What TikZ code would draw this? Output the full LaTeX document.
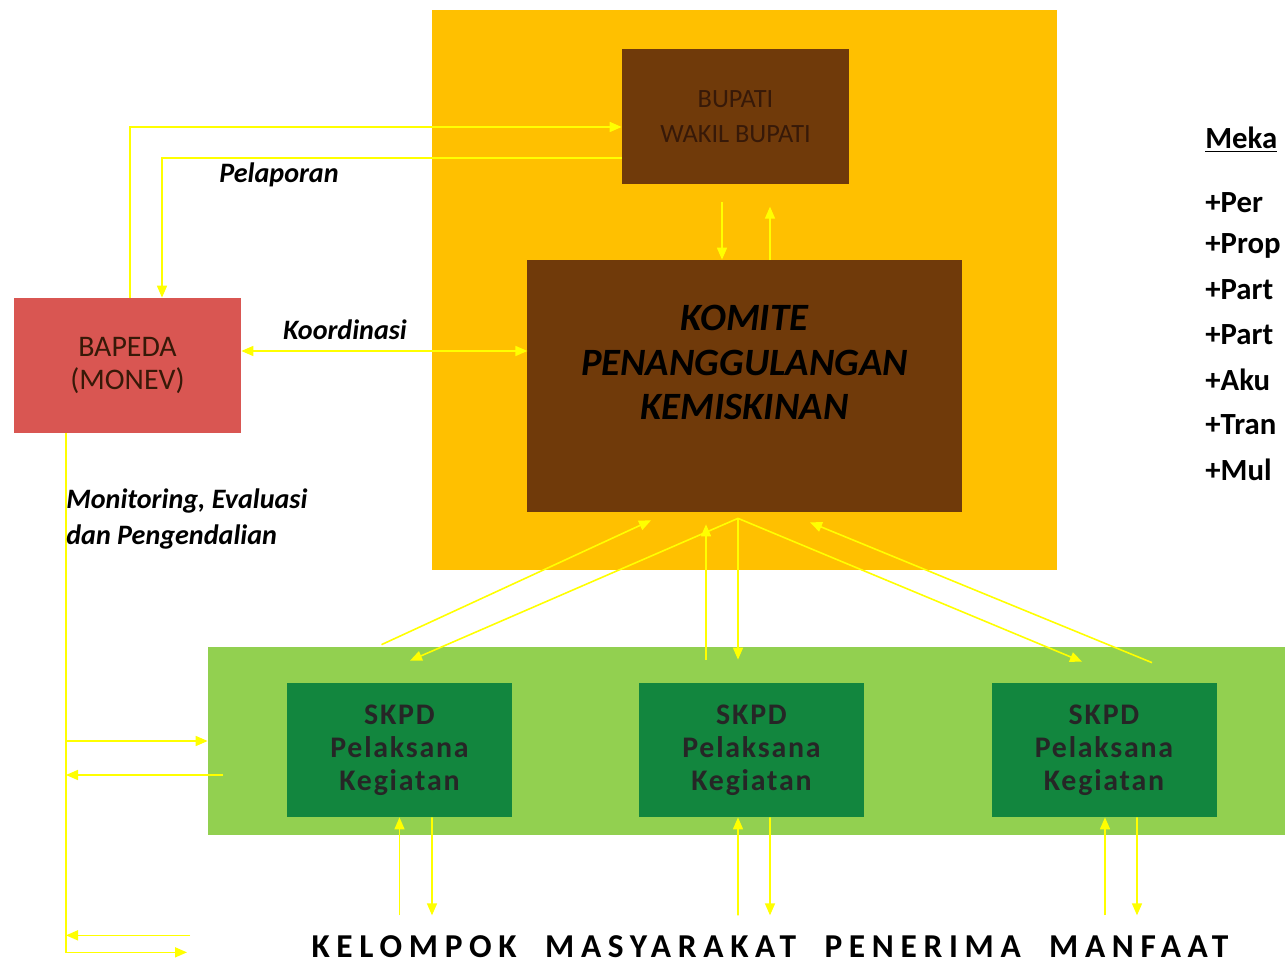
\documentclass[tikz,border=0pt]{standalone}
\usepackage{fontspec}
\setmainfont{Carlito}
\usetikzlibrary{arrows.meta}

\definecolor{kuning}{RGB}{255,192,0}
\definecolor{coklat}{RGB}{112,58,10}
\definecolor{merah}{RGB}{217,86,82}
\definecolor{hijaumuda}{RGB}{146,208,80}
\definecolor{hijautua}{RGB}{18,134,62}
\definecolor{garis}{RGB}{255,255,0}
\definecolor{teksgelap}{RGB}{55,25,8}

\tikzset{
  box/.style={inner sep=0pt, align=center},
  link/.style={draw=garis, line width=0.9pt},
  >={Triangle[length=2.4mm,width=2mm]},
  lbl/.style={font=\fontsize{16}{21}\selectfont\bfseries\itshape, inner sep=0pt},
  skpd/.style={box, fill=hijautua, minimum width=45mm, minimum height=26.8mm, text=black!85,
    font=\fontsize{17}{18.7}\selectfont\bfseries\addfontfeature{LetterSpace=6}},
  butir/.style={anchor=west, inner sep=0pt, font=\fontsize{17.5}{22}\selectfont\bfseries},
}

\begin{document}
\begin{tikzpicture}[x=0.2mm, y=-0.2mm]
\useasboundingbox (0,0) rectangle (1285,966);
\clip (0,0) rectangle (1285,966);
\fill[white] (0,0) rectangle (1285,966);

\node[box, fill=kuning, minimum width=125mm, minimum height=112mm] (tkpk) at (744.5,290) {};
\node[box, fill=hijaumuda, minimum width=218.4mm, minimum height=37.6mm] (pelaksana) at (754,741) {};

\node[box, fill=coklat, minimum width=45.4mm, minimum height=27mm, text=teksgelap,
  font=\fontsize{15}{19.8}\selectfont] (bupati) at (735.5,116.5) {BUPATI\\WAKIL BUPATI};
\node[box, fill=coklat, minimum width=87mm, minimum height=50.4mm] (komite) at (744.5,386) {};
\node[box, font=\fontsize{22}{25.5}\selectfont\bfseries\itshape] (komitetext) at ([yshift=4.7mm]komite.center)
  {KOMITE\\PENANGGULANGAN\\KEMISKINAN};
\node[box, fill=merah, minimum width=45.4mm, minimum height=27mm, text=teksgelap,
  font=\fontsize{17}{18.7}\selectfont] (bapeda) at (127.5,365.5) {BAPEDA\\(MONEV)};

\node[skpd] (skpdA) at (399.5,750) {SKPD\\Pelaksana\\Kegiatan};
\node[skpd] (skpdB) at (751.5,750) {SKPD\\Pelaksana\\Kegiatan};
\node[skpd] (skpdC) at (1104,750) {SKPD\\Pelaksana\\Kegiatan};

\draw[link,->] ([xshift=0.5mm]bapeda.north) |- ([yshift=-2.1mm]bupati.west);
\draw[link,->] ([yshift=-8.3mm]bupati.west) -| ([xshift=6.9mm]bapeda.north);
\draw[link,<->] ([yshift=2.9mm]bapeda.east) -- ++(286,0);

\draw[link,->] ([shift={(-13.5,18)}]bupati.south) -- ([shift={(-22.5,0)}]komite.north);
\draw[link,->] ([shift={(25.5,0)}]komite.north) -- ([shift={(25.5,-53)}]komite.north);

\coordinate (hub) at ([shift={(-6.5,6)}]komite.south);
\draw[link,->] ([shift={(-18,-38)}]skpdA.north) -- ([shift={(-93.5,8)}]komite.south);
\draw[link,->] (hub) -- ([shift={(10.5,-22)}]skpdA.north);
\draw[link,->] ([shift={(-45.5,-23)}]skpdB.north) -- ([shift={(-38.5,12)}]komite.south);
\draw[link,->] (hub) -- ([shift={(-13.5,-23)}]skpdB.north);
\draw[link,->] (hub) -- ([shift={(-22,-21)}]skpdC.north);
\draw[link,->] ([shift={(48,-20)}]skpdC.north) -- ([shift={(65.5,10)}]komite.south);

\draw[link,->] ([shift={(0,98)}]skpdA.south) -- (skpdA.south);
\draw[link,->] ([xshift=6.5mm]skpdA.south) -- ([shift={(32.5,98)}]skpdA.south);
\draw[link,->] ([shift={(-13.5,98)}]skpdB.south) -- ([xshift=-2.7mm]skpdB.south);
\draw[link,->] ([xshift=3.7mm]skpdB.south) -- ([shift={(18.5,98)}]skpdB.south);
\draw[link,->] ([shift={(1,98)}]skpdC.south) -- ([xshift=0.2mm]skpdC.south);
\draw[link,->] ([xshift=6.6mm]skpdC.south) -- ([shift={(33,98)}]skpdC.south);

\coordinate (monx) at ([xshift=-12.3mm]bapeda.south);
\draw[link,->] (monx) -- ++(0,519) -- ++(121,0);
\draw[link,->] (pelaksana.west -| monx) -- (pelaksana.west);
\coordinate (balik) at ([shift={(15,34)}]pelaksana.west);
\draw[link,->] (balik) -- (balik -| monx);
\draw[link,->] ([shift={(124,502)}]monx) -- ++(-124,0);

\node[lbl] (pelaporan) at (279,175) {Pelaporan};
\node[lbl] (koordinasi) at (345,330) {Koordinasi};
\node[lbl, anchor=north west, align=left] (monev) at (66,488) {Monitoring, Evaluasi\\dan Pengendalian};

\node[inner sep=0pt, font=\fontsize{19}{20}\selectfont\bfseries\addfontfeature{LetterSpace=20}] (kelompok)
  at (770,947) {KELOMPOK\ \ MASYARAKAT\ \ PENERIMA\ \ MANFAAT};

\node[butir] (mekanisme) at (1205,140) {\underline{Meka}};
\node[butir] (butirA) at (1205,203) {+Per};
\node[butir] (butirB) at (1205,246) {+Prop};
\node[butir] (butirC) at (1205,290) {+Part};
\node[butir] (butirD) at (1205,335) {+Part};
\node[butir] (butirE) at (1205,380) {+Aku};
\node[butir] (butirF) at (1205,425) {+Tran};
\node[butir] (butirG) at (1205,470) {+Mul};

\end{tikzpicture}
\end{document}
